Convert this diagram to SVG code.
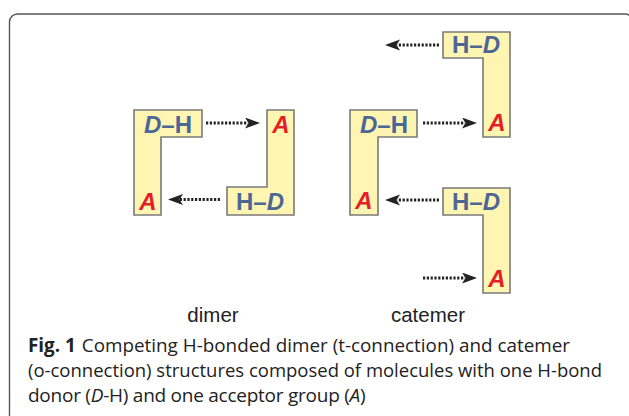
<svg xmlns="http://www.w3.org/2000/svg" width="629" height="416" viewBox="0 0 629 416">
<defs>
<style>
.mol{fill:#fff5b3;stroke:#7a7a7a;stroke-width:1.6}
.dh{font-family:"Liberation Sans",Arial,sans-serif;font-weight:bold;font-size:24px;fill:#4d6795;text-anchor:middle}
.a{font-family:"Liberation Sans",Arial,sans-serif;font-weight:bold;font-style:italic;font-size:24px;fill:#e41e26;text-anchor:middle}
.arr{stroke:#222;stroke-width:2.8;stroke-dasharray:2.2 1.6;fill:none;marker-end:url(#ah)}
.lbl{font-family:"Liberation Sans",Arial,sans-serif;font-size:20.5px;fill:#222;text-anchor:middle}
.cap{font-family:"Open Sans","Noto Sans",sans-serif;font-size:19px;fill:#222}
</style>
<marker id="ah" markerUnits="userSpaceOnUse" markerWidth="16" markerHeight="12" refX="3" refY="5.5" orient="auto">
<path d="M0,0 L15,5.5 L0,11 L3.5,5.5 Z" fill="#222"/>
</marker>
</defs>
<path d="M9.5,416 V22 A8,8 0 0 1 17.5,14 H625 A8,8 0 0 1 633,22 V416" fill="none" stroke="#555" stroke-width="1.4"/>

<g id="dimer-left">
<path class="mol" d="M134,110 H202 V137 H161 V215 H134 Z"/>
<text class="dh" x="168" y="133"><tspan font-style="italic">D</tspan>–H</text>
<text class="a" x="148" y="210">A</text>
</g>
<g id="dimer-right">
<path class="mol" d="M267,110 H294 V215 H227 V187 H267 Z"/>
<text class="a" x="281" y="133">A</text>
<text class="dh" x="260" y="210">H–<tspan font-style="italic">D</tspan></text>
</g>
<g id="catemer-top">
<path class="mol" d="M443,32 H510 V137 H483 V58 H443 Z"/>
<text class="dh" x="476" y="53">H–<tspan font-style="italic">D</tspan></text>
<text class="a" x="497" y="131">A</text>
</g>
<g id="catemer-middle">
<path class="mol" d="M350,110 H417 V137 H378 V215 H350 Z"/>
<text class="dh" x="384" y="133"><tspan font-style="italic">D</tspan>–H</text>
<text class="a" x="364" y="209">A</text>
</g>
<g id="catemer-bottom">
<path class="mol" d="M443,188 H510 V293 H483 V215 H443 Z"/>
<text class="dh" x="476" y="210">H–<tspan font-style="italic">D</tspan></text>
<text class="a" x="497" y="287">A</text>
</g>

<g id="connectors">
<line class="arr" x1="206" y1="123" x2="248" y2="123"/>
<line class="arr" x1="220" y1="199.5" x2="180" y2="199.5"/>
<line class="arr" x1="439" y1="45" x2="397" y2="45"/>
<line class="arr" x1="423" y1="123" x2="465" y2="123"/>
<line class="arr" x1="439" y1="200" x2="397" y2="200"/>
<line class="arr" x1="423" y1="278" x2="465" y2="278"/>
</g>

<text class="lbl" x="213" y="322">dimer</text>
<text class="lbl" x="428" y="322">catemer</text>

<text class="cap" x="28" y="352" textLength="542" lengthAdjust="spacingAndGlyphs"><tspan font-weight="bold">Fig. 1</tspan><tspan dx="6">Competing H-bonded dimer (t-connection) and catemer</tspan></text>
<text class="cap" x="28" y="377" textLength="574" lengthAdjust="spacingAndGlyphs">(o-connection) structures composed of molecules with one H-bond</text>
<text class="cap" x="28" y="402" font-size="18.3" letter-spacing="-0.25">donor (<tspan font-style="italic">D</tspan>-H) and one acceptor group (<tspan font-style="italic">A</tspan>)</text>
</svg>
